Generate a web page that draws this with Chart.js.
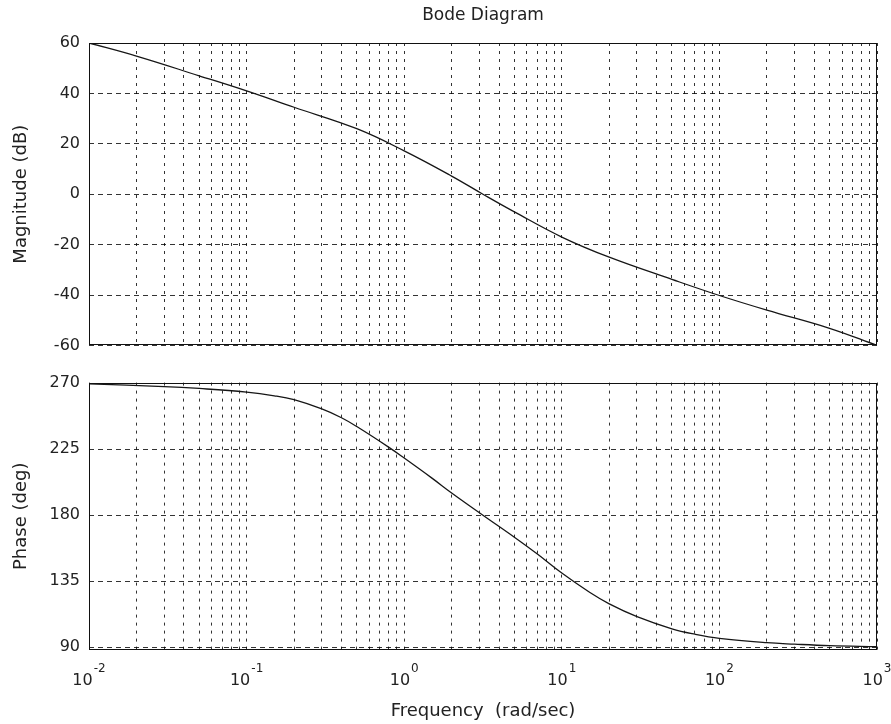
<!DOCTYPE html>
<html>
<head>
<meta charset="utf-8">
<script src="https://cdn.jsdelivr.net/npm/chart.js@4.4.0/dist/chart.umd.min.js"></script>
<style>
    html, body { margin: 0; padding: 0; background: #fff; }
    #wrap { position: relative; width: 891px; height: 724px; }
    #mag { position: absolute; left: 0; top: 0; }
    #ph { position: absolute; left: 0; top: 364px; }
</style>
</head>
<body>
<div id="wrap">
    <canvas id="mag" width="891" height="364"></canvas>
    <canvas id="ph" width="891" height="360"></canvas>
</div>
<script>
// data
const magFreq = [0.01, 0.02, 0.05, 0.1, 0.2, 0.5, 1, 2, 3.16, 5, 10, 20, 50, 100, 200, 500, 1000];
const magDb = [60, 54.8, 47, 41, 34.5, 26, 17.2, 7.2, 0, -7, -17, -25, -33.8, -40.2, -46, -53.2, -60];

const phaseFreq = [0.01, 0.03, 0.05, 0.1, 0.15, 0.2, 0.3, 0.4, 0.5, 0.8, 1, 1.5, 2, 3.16, 5, 7, 10, 15, 20, 30, 50, 70, 100, 200, 300, 500, 1000];
const phaseDeg = [269.6, 267.8, 266.5, 264, 261.5, 258.8, 252.5, 246.5, 240.5, 226.3, 219, 205.3, 195.2, 180, 165, 153.5, 140.5, 127.4, 119.5, 110.8, 102.5, 98.8, 96, 93, 92, 91, 90.3];

const magTicks = [-60, -40, -20, 0, 20, 40, 60];
const phaseTicks = [90, 135, 180, 225, 270];
const decadeExp = [-2, -1, 0, 1, 2, 3];
const minorMult = [1, 2, 3, 4, 5, 6, 7, 8, 9];

// every decade and 2..9 inside it, for the log grid
const xGrid = [];
decadeExp.forEach(e => {
    minorMult.forEach(m => {
        const v = m * Math.pow(10, e);
        if (v <= 1000) xGrid.push(v);
    });
});

const FONT = 'DejaVu Sans';
const TXT = '#222';
Chart.defaults.font.family = FONT;
Chart.defaults.color = TXT;

const toXY = (xs, ys) => xs.map((x, i) => ({ x: x, y: ys[i] }));

const boxPlugin = {
    id: 'box',
    afterDatasetsDraw(chart) {
        const { ctx, chartArea: a } = chart;
        ctx.save();
        ctx.strokeStyle = '#111';
        ctx.lineWidth = 1;
        ctx.strokeRect(Math.round(a.left) + 0.5, Math.round(a.top) + 0.5,
            Math.round(a.right - a.left) - 1, Math.round(a.bottom - a.top) - 1);
        ctx.restore();
    }
};

// 10 with raised exponent under each decade
const expLabels = {
    id: 'expLabels',
    afterDraw(chart) {
        const sc = chart.scales.x;
        const ctx = chart.ctx;
        const base = chart.chartArea.bottom + 35;
        ctx.save();
        ctx.fillStyle = TXT;
        ctx.textBaseline = 'alphabetic';
        decadeExp.forEach(e => {
            const px = sc.getPixelForValue(Math.pow(10, e));
            ctx.font = '16px "' + FONT + '"';
            const w1 = ctx.measureText('10').width;
            ctx.font = '12px "' + FONT + '"';
            const sup = String(e);
            const w2 = ctx.measureText(sup).width;
            const x0 = px - (w1 + w2 + 1) / 2;
            ctx.font = '16px "' + FONT + '"';
            ctx.fillText('10', x0, base);
            ctx.font = '12px "' + FONT + '"';
            ctx.fillText(sup, x0 + w1 + 1, base - 13);
        });
        ctx.restore();
    }
};

const xScale = (h) => ({
    type: 'logarithmic',
    min: 0.01,
    max: 1000,
    afterBuildTicks: (axis) => { axis.ticks = xGrid.map(v => ({ value: v })); },
    afterFit: (axis) => { axis.height = h; },
    ticks: { display: false },
    grid: { color: 'rgba(0,0,0,0.8)', lineWidth: 1, drawTicks: false },
    border: { display: false, dash: [3, 5] }
});

const yScale = (min, max, vals, label) => ({
    min: min,
    max: max,
    afterBuildTicks: (axis) => { axis.ticks = vals.map(v => ({ value: v })); },
    afterFit: (axis) => { axis.width = 89; },
    ticks: { padding: 9, font: { size: 16 }, color: TXT },
    grid: { color: 'rgba(0,0,0,0.8)', lineWidth: 1, drawTicks: false },
    border: { display: false, dash: [5, 4] },
    title: { display: true, text: label, font: { size: 18 }, color: TXT, padding: { top: 11, bottom: 0 } }
});

const lineSet = (data) => ({
    data: data,
    borderColor: '#161616',
    borderWidth: 1.3,
    pointRadius: 0,
    tension: 0.4,
    fill: false
});

const chartMag = new Chart(document.getElementById('mag').getContext('2d'), {
    type: 'line',
    data: { datasets: [lineSet(toXY(magFreq, magDb))] },
    options: {
        responsive: false,
        animation: false,
        layout: { padding: { top: 0, right: 14, left: 0, bottom: 0 } },
        plugins: {
            legend: { display: false },
            tooltip: { enabled: false },
            title: {
                display: true,
                fullSize: false,
                text: 'Bode Diagram',
                color: TXT,
                font: { size: 17, weight: 'normal' },
                padding: { top: 5, bottom: 17.6 }
            }
        },
        scales: {
            x: xScale(12),
            y: yScale(-60, 60, magTicks, 'Magnitude (dB)')
        }
    },
    plugins: [boxPlugin]
});

const xPh = xScale(74);
xPh.title = { display: true, text: 'Frequency  (rad/sec)', font: { size: 18 }, color: TXT, padding: { top: 0, bottom: 2 } };

const chartPh = new Chart(document.getElementById('ph').getContext('2d'), {
    type: 'line',
    data: { datasets: [lineSet(toXY(phaseFreq, phaseDeg))] },
    options: {
        responsive: false,
        animation: false,
        layout: { padding: { top: 12, right: 14, left: 0, bottom: 0 } },
        plugins: {
            legend: { display: false },
            tooltip: { enabled: false }
        },
        scales: {
            x: xPh,
            y: yScale(88, 270.5, phaseTicks, 'Phase (deg)')
        }
    },
    plugins: [boxPlugin, expLabels]
});
</script>
</body>
</html>
